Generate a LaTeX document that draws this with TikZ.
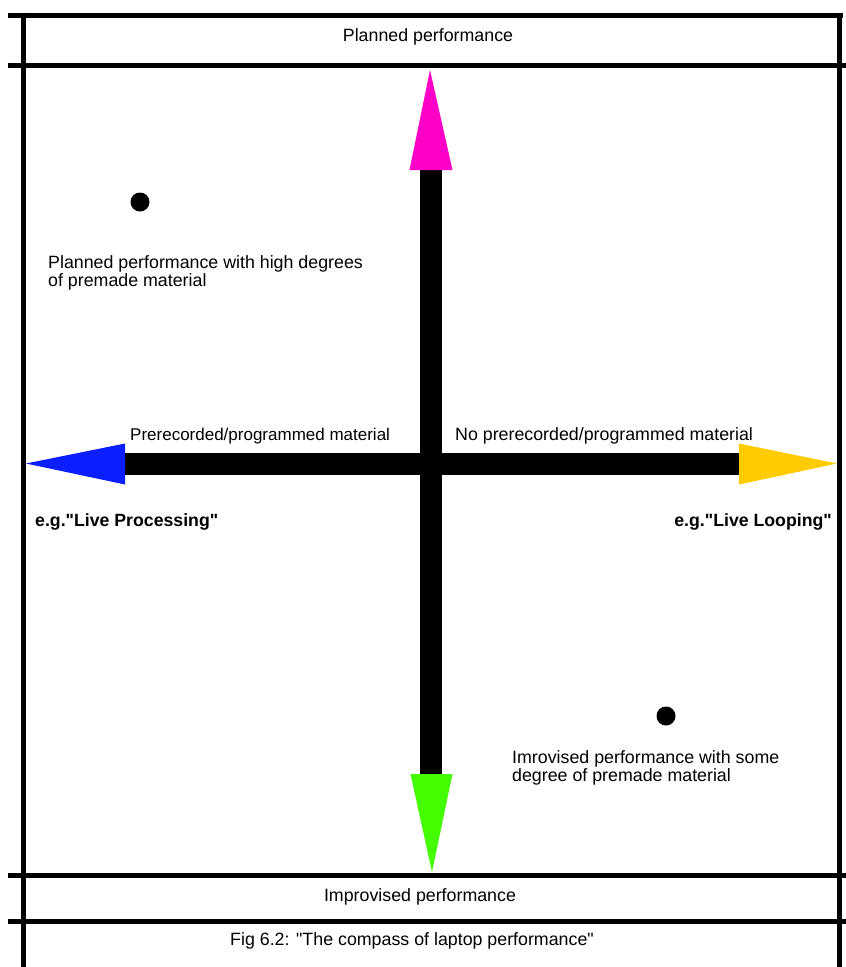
\documentclass[tikz,border=0pt]{standalone}
\usepackage{fontspec}
\setmainfont{Liberation Sans}[Ligatures=TeXOff]
\definecolor{cmag}{HTML}{FF00C8}
\definecolor{cblue}{HTML}{0A1EFF}
\definecolor{cyel}{HTML}{FFCC00}
\definecolor{cgreen}{HTML}{44FF00}
\begin{document}
\begin{tikzpicture}[x=1pt,y=-1pt,
  frame/.style={line width=5pt},
  shaft/.style={line width=22pt},
  lbl/.style={inner sep=0pt, font=\fontsize{17.8}{16.5}\selectfont, align=left},
  blbl/.style={inner sep=0pt, font=\fontsize{17.7}{20}\selectfont\bfseries},
  dot/.style={circle, fill=black, inner sep=0pt, minimum size=19pt}]
\useasboundingbox (0,0) rectangle (846,967);
% frame
\coordinate (TL) at (8,15); \coordinate (TR) at (843,15);
\coordinate (L1) at (8,65); \coordinate (R1) at (846,65);
\coordinate (L2) at (8,875); \coordinate (R2) at (846,875);
\coordinate (L3) at (8,921); \coordinate (R3) at (846,921);
\coordinate (VLt) at (23,12.5); \coordinate (VLb) at (23,967);
\coordinate (VRt) at (839.5,12.5); \coordinate (VRb) at (839.5,967);
\draw[frame] (TL) -- (TR);
\draw[frame] (L1) -- (R1);
\draw[frame] (L2) -- (R2);
\draw[frame] (L3) -- (R3);
\draw[frame] (VLt) -- (VLb);
\draw[frame] (VRt) -- (VRb);
% headings
\node[lbl] (top) at (428,37) {Planned performance};
\node[lbl] (bot) at (420,897) {Improvised performance};
\node[lbl] (cap) at (412,941) {Fig 6.2: "The compass of laptop performance"};
% compass
\coordinate (Ntip) at (430,70); \coordinate (Nbase) at (431,170);
\coordinate (Stip) at (432,872); \coordinate (Sbase) at (431,774);
\coordinate (Wtip) at (26,463.5); \coordinate (Wbase) at (125,464);
\coordinate (Etip) at (837,463.5); \coordinate (Ebase) at (739,464);
\draw[shaft] (Nbase) -- (Sbase);
\draw[shaft] (Wbase) -- (Ebase);
\fill[cmag] (Ntip) -- ([xshift=-21.5pt]Nbase) -- ([xshift=21.5pt]Nbase) -- cycle;
\fill[cgreen] (Stip) -- ([xshift=-20.5pt]Sbase) -- ([xshift=21.5pt]Sbase) -- cycle;
\fill[cblue] (Wtip) -- ([yshift=-20.5pt]Wbase) -- ([yshift=20.5pt]Wbase) -- cycle;
\fill[cyel] (Etip) -- ([yshift=-20.5pt]Ebase) -- ([yshift=20.5pt]Ebase) -- cycle;
% labels
\node[lbl, anchor=base west, font=\fontsize{17}{17}\selectfont] (pre) at (130,440) {Prerecorded/programmed material};
\node[lbl, anchor=base west] (nopre) at (455,440) {No prerecorded/programmed material};
\node[blbl, anchor=base west] (proc) at (35,526) {e.g."Live Processing"};
\node[blbl, anchor=base east] (loop) at (832,526) {e.g."Live Looping"};
% dots and notes
\node[dot] (d1) at (140,202) {};
\node[dot] (d2) at (666,716) {};
\node[lbl, anchor=base west] (n1) at (48,286) {Planned performance with high degrees\\of premade material};
\node[lbl, anchor=base west] (n2) at (512,781) {Imrovised performance with some\\degree of premade material};
\end{tikzpicture}
\end{document}
